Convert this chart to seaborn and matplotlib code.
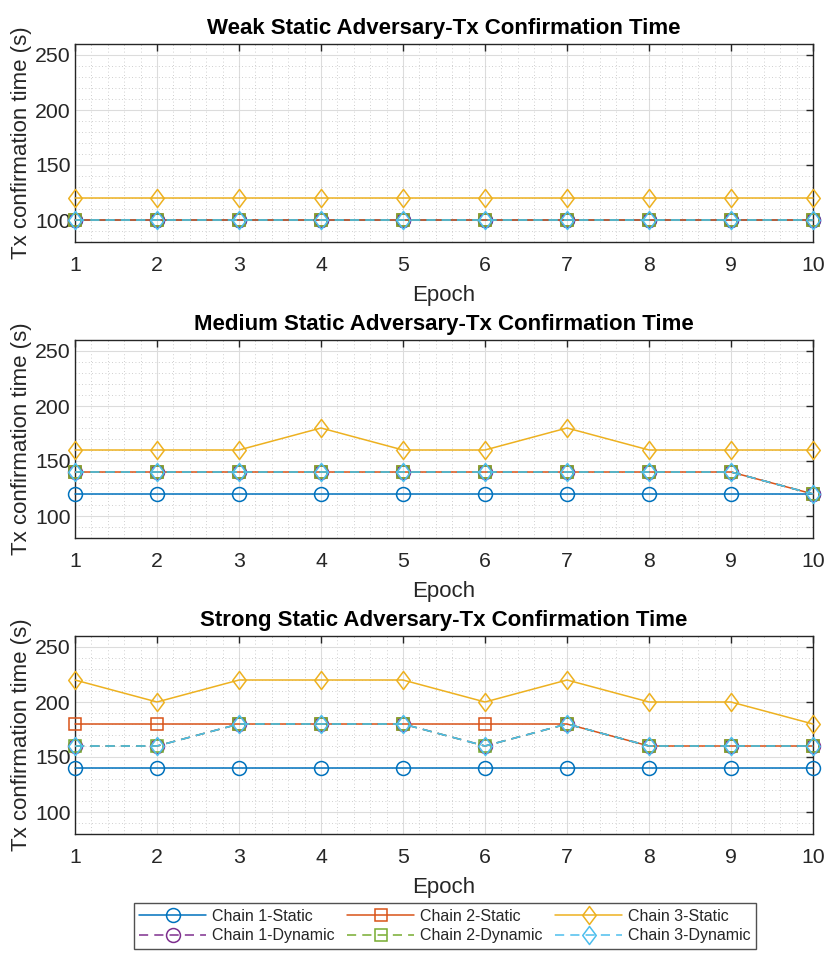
import numpy as np
import pandas as pd
import matplotlib
matplotlib.use("Agg")
import matplotlib.pyplot as plt
from matplotlib.path import Path
from matplotlib.ticker import MultipleLocator
import seaborn as sns

sns.set_theme(style="white")
plt.rcParams['font.family'] = ['Liberation Sans', 'DejaVu Sans']

epochs = [1, 2, 3, 4, 5, 6, 7, 8, 9, 10]
series_names = ["Chain 1-Static", "Chain 2-Static", "Chain 3-Static",
                "Chain 1-Dynamic", "Chain 2-Dynamic", "Chain 3-Dynamic"]
titles = ["Weak Static Adversary-Tx Confirmation Time",
          "Medium Static Adversary-Tx Confirmation Time",
          "Strong Static Adversary-Tx Confirmation Time"]

# Weak
weak_c1s = [100] * 10
weak_c2s = [100] * 10
weak_c3s = [120] * 10
weak_c1d = [100] * 10
weak_c2d = [100] * 10
weak_c3d = [100] * 10
# Medium
med_c1s = [120] * 10
med_c2s = [140, 140, 140, 140, 140, 140, 140, 140, 140, 120]
med_c3s = [160, 160, 160, 180, 160, 160, 180, 160, 160, 160]
med_c1d = [140, 140, 140, 140, 140, 140, 140, 140, 140, 120]
med_c2d = [140, 140, 140, 140, 140, 140, 140, 140, 140, 120]
med_c3d = [140, 140, 140, 140, 140, 140, 140, 140, 140, 120]
# Strong
str_c1s = [140] * 10
str_c2s = [180, 180, 180, 180, 180, 180, 180, 160, 160, 160]
str_c3s = [220, 200, 220, 220, 220, 200, 220, 200, 200, 180]
str_c1d = [160, 160, 180, 180, 180, 160, 180, 160, 160, 160]
str_c2d = [160, 160, 180, 180, 180, 160, 180, 160, 160, 160]
str_c3d = [160, 160, 180, 180, 180, 160, 180, 160, 160, 160]

panels = [
    [weak_c1s, weak_c2s, weak_c3s, weak_c1d, weak_c2d, weak_c3d],
    [med_c1s, med_c2s, med_c3s, med_c1d, med_c2d, med_c3d],
    [str_c1s, str_c2s, str_c3s, str_c1d, str_c2d, str_c3d],
]

colors = ["#0072BD", "#D95319", "#EDB120", "#7E2F8E", "#77AC30", "#4DBEEE"]
diamond = Path([(0, 1), (0.75, 0), (0, -1), (-0.75, 0), (0, 1)],
               [Path.MOVETO, Path.LINETO, Path.LINETO, Path.LINETO, Path.CLOSEPOLY])
markers = ["o", "s", diamond, "o", "s", diamond]
msizes = [10, 8, 13, 10, 8, 13]
styles = ["-", "-", "-", (0, (6, 4)), (0, (6, 4)), (0, (6, 4))]

W, H = 830, 959
fig = plt.figure(figsize=(W / 100, H / 100), dpi=100)
ax_left = 75 / W
ax_w = (813 - 75) / W
tops = [44, 340, 636]
ax_h = 198 / H

handles = []
for p, (top, data) in enumerate(zip(tops, panels)):
    ax = fig.add_axes([ax_left, 1 - (top + 198) / H, ax_w, ax_h])
    for i, vals in enumerate(data):
        df = pd.DataFrame({"Epoch": epochs, "Time": vals})
        sns.lineplot(data=df, x="Epoch", y="Time", ax=ax, color=colors[i],
                     linestyle=styles[i], linewidth=1.1, marker=markers[i],
                     markersize=msizes[i], markerfacecolor="none",
                     markeredgecolor=colors[i], markeredgewidth=1.1,
                     label=series_names[i], legend=False, zorder=3 + i,
                     clip_on=False)
    ax.set_xlim(1, 10)
    ax.set_ylim(80, 260)
    ax.set_xticks(epochs)
    ax.set_yticks([100, 150, 200, 250])
    ax.xaxis.set_minor_locator(MultipleLocator(0.2))
    ax.yaxis.set_minor_locator(MultipleLocator(10))
    ax.grid(True, which="major", color="#dcdcdc", linewidth=0.8, linestyle="-")
    ax.grid(True, which="minor", color="#c0c0c0", linewidth=0.6, linestyle=(0, (1, 3)))
    ax.set_axisbelow(True)
    ax.tick_params(which="major", direction="in", length=5, width=1,
                   top=True, right=True, labelsize=15.3, colors="#262626",
                   labelcolor="#262626")
    ax.tick_params(axis="x", which="major", pad=10)
    ax.tick_params(axis="y", which="major", pad=3)
    ax.tick_params(which="minor", length=0)
    for s in ax.spines.values():
        s.set_color("#262626")
        s.set_linewidth(1)
    ax.set_xlabel("Epoch", fontsize=16, color="#262626", labelpad=7)
    ax.set_ylabel("Tx confirmation time (s)", fontsize=16, color="#262626", labelpad=2)
    ax.set_title(titles[p], fontsize=16, fontweight="bold", pad=7.5, color="black")
    if p == 0:
        handles = ax.get_lines()[:6]

order = [0, 3, 1, 4, 2, 5]
leg = fig.legend([handles[i] for i in order], [series_names[i] for i in order],
                 ncol=3, loc="center", bbox_to_anchor=(445 / W, 1 - 926 / H),
                 fontsize=11.5, frameon=True, fancybox=False, edgecolor="#262626",
                 handlelength=4.2, columnspacing=0.8, handletextpad=0.35,
                 borderpad=0.35, labelspacing=0.3, borderaxespad=0)
leg.get_frame().set_linewidth(1)

fig.savefig("out.png", dpi=100, facecolor="white")
